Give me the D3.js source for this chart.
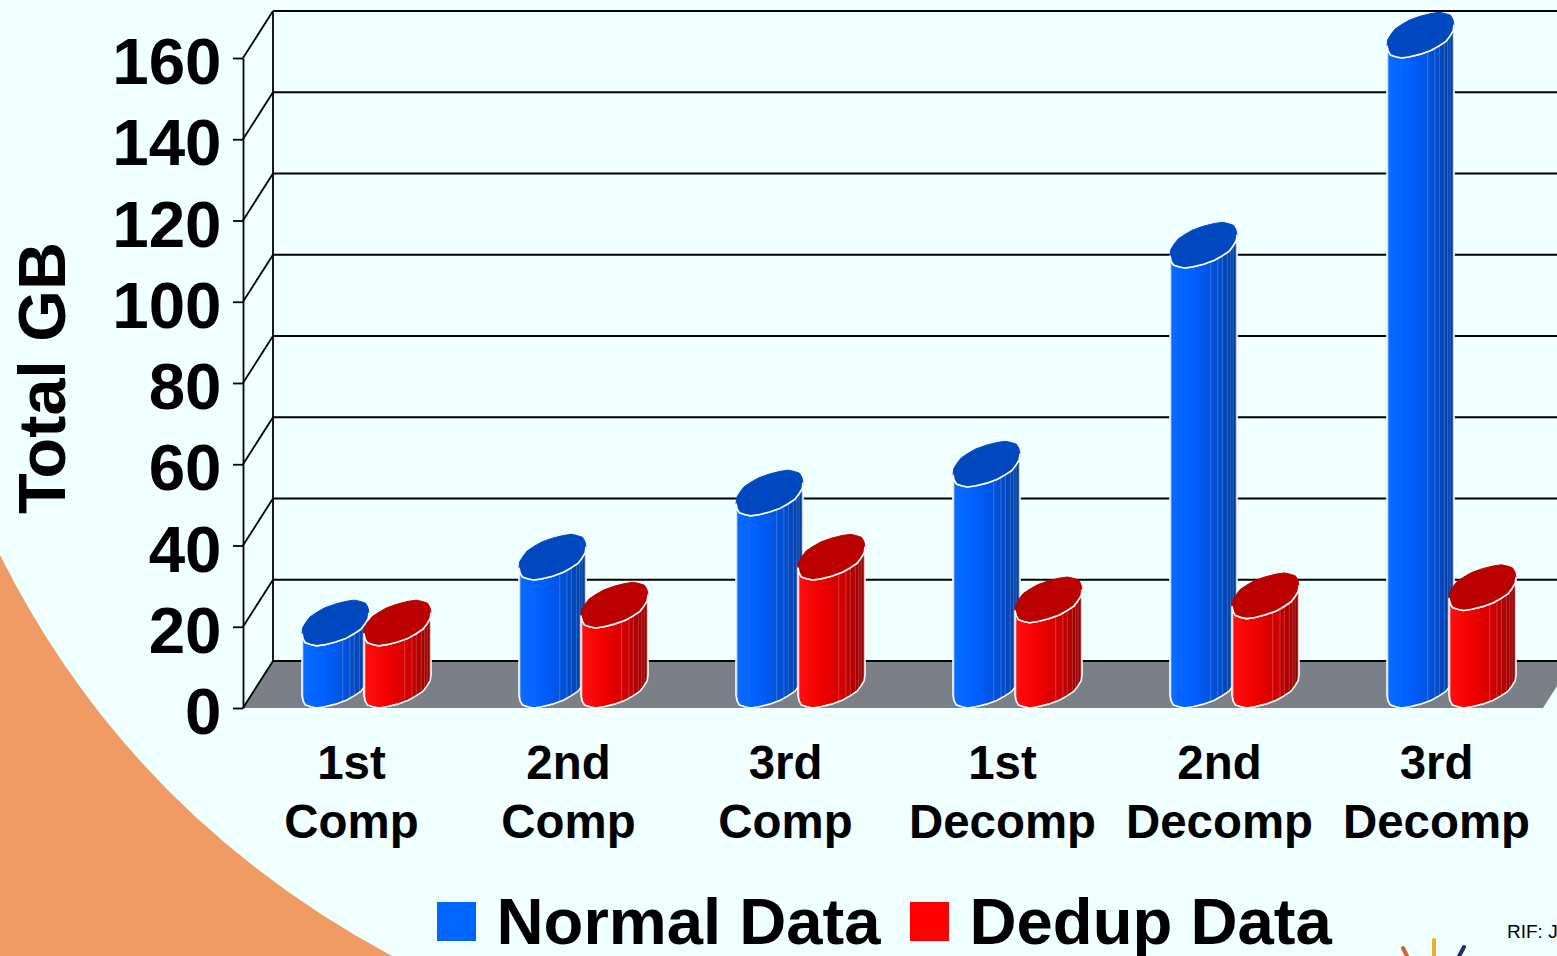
<!DOCTYPE html>
<html><head><meta charset="utf-8">
<script src="https://cdn.jsdelivr.net/npm/d3@7"></script>
<style>html,body{margin:0;padding:0;background:#f0ffff;overflow:hidden}svg{display:block}text{font-family:"Liberation Sans",Arial,sans-serif;font-weight:700;fill:#000}</style>
</head><body><svg id="c" width="1557" height="956"></svg>
<script>
const categories = ["1st|Comp","2nd|Comp","3rd|Comp","1st|Decomp","2nd|Decomp","3rd|Decomp"];
const seriesNames = ["Normal Data","Dedup Data"];
const normalValues = [15.3,31.5,47.3,54.4,108.3,160];
const dedupValues = [15.3,19.7,31.5,21,22,24];
const tickValues = [0,20,40,60,80,100,120,140,160];

const W=1557,H=956;
const svg=d3.select("#c");
const defs=svg.append("defs");
const y=d3.scaleLinear().domain([0,160]).range([708,58]);
const x=d3.scaleBand().domain(categories).range([243,1545]);
const sub=d3.scaleOrdinal().domain(seriesNames).range([59,121]);
const depth={dx:30,dy:-47};

const palette={
 "Normal Data":{id:"gB",stops:["#0a6cff","#0060ff","#0050d8","#003c9c"],top:"#0048c0",legend:"#0066ff"},
 "Dedup Data":{id:"gR",stops:["#ff1010","#f20000","#cf0000","#8e0000"],top:"#bb0000",legend:"#ff0000"}
};
Object.values(palette).forEach(p=>{
 const g=defs.append("linearGradient").attr("id",p.id);
 p.stops.forEach((c,i)=>g.append("stop").attr("offset",i/(p.stops.length-1)).attr("stop-color",c));
});

svg.append("rect").attr("width",W).attr("height",H).attr("fill","#f0ffff");
svg.append("path").attr("d","M0,555 Q130,815 392,956 L0,956 Z").attr("fill","#f09b63");

// floor
svg.append("path").attr("d",`M${x.range()[0]},${y(0)} l${depth.dx},${depth.dy} H${W} V${y(0)-22} L1543,${y(0)} Z`).attr("fill","#7b8088");

// back wall gridlines, side wall
const wall=svg.append("g").attr("stroke","#000").attr("stroke-width",1.8).attr("fill","none");
const x0=x.range()[0];
tickValues.forEach(v=>{
 wall.append("line").attr("x1",x0+depth.dx).attr("x2",W).attr("y1",y(v)+depth.dy).attr("y2",y(v)+depth.dy);
 wall.append("line").attr("x1",x0).attr("x2",x0+depth.dx).attr("y1",y(v)).attr("y2",y(v)+depth.dy);
});
wall.append("line").attr("x1",x0+depth.dx).attr("x2",x0+depth.dx).attr("y1",y(0)+depth.dy).attr("y2",y(160)+depth.dy);

// left axis
const axis=svg.append("g").attr("transform",`translate(${x0},0)`)
 .call(d3.axisLeft(y).tickValues(tickValues).tickSize(10).tickSizeOuter(0).tickPadding(11.5));
axis.selectAll("path,line").attr("stroke","#000").attr("stroke-width",1.8);
axis.selectAll("text").style("font-size","65.5px").style("font-family",'"Liberation Sans"').style("font-weight",700).attr("fill","#000").attr("dy","0.39em");

// cylinders: a rounded, slightly faceted tilted disc
const A=33.5,B=19,S=10.5,N=24;
const edge=d3.line().curve(d3.curveLinear);
const pw=(v,e)=>Math.sign(v)*Math.pow(Math.abs(v),e);
function ell(cx,cy,t){
 const j=1+0.012*Math.sin(t*10);
 const u=pw(Math.cos(t),0.84)*j, v=pw(Math.sin(t),0.88)*j;
 return [cx+A*Math.min(1,Math.max(-1,u)),cy-S*u+B*v];
}
function ring(cx,cy,a0,a1,n){return d3.range(n+1).map(i=>ell(cx,cy,a0+(a1-a0)*i/n));}
const HB=d3.max(d3.range(0,Math.PI*2,0.01),t=>ell(0,0,t)[1]);
const seamTs=[0.94,0.9,0.45,0.38,0.33,0.27,0.22,0.16,0.1].map(f=>Math.PI*f);
function drawBar(cat,name,val){
 const p=palette[name];
 const left=x(cat)+sub(name), cx=left+A;
 const yBase=y(0)-HB, yTop=y(val)-HB;
 const g=svg.append("g");
 const front=ring(cx,yTop,Math.PI,0,N/2);
 const base=ring(cx,yBase,0,Math.PI,N/2);
 g.append("path").attr("d",edge(front.concat(base))+"Z").attr("fill",`url(#${p.id})`).attr("stroke","#fff").attr("stroke-width",1.6).attr("stroke-linejoin","round");
 seamTs.forEach(t=>{
  const a=ell(cx,yTop,t), b=ell(cx,yBase,t);
  g.append("line").attr("x1",a[0]).attr("x2",b[0]).attr("y1",a[1]).attr("y2",b[1])
   .attr("stroke","#fff").attr("stroke-opacity",.18).attr("stroke-width",1.2);
 });
 g.append("path").attr("d",edge(ring(cx,yTop,0,2*Math.PI,N))+"Z").attr("fill",p.top).attr("stroke",p.top).attr("stroke-width",1);
 g.append("path").attr("d",edge(front)).attr("fill","none").attr("stroke","#fff").attr("stroke-width",1.6);
}
categories.forEach((c,i)=>{
 drawBar(c,seriesNames[0],normalValues[i]);
 drawBar(c,seriesNames[1],dedupValues[i]);
});

// category labels
categories.forEach(c=>{
 const cxx=x(c)+x.bandwidth()/2;
 c.split("|").forEach((l,i)=>{
  svg.append("text").attr("x",cxx).attr("y",778.5+i*59).attr("text-anchor","middle").style("font-size","47.4px").text(l);
 });
});

// y title
svg.append("text").attr("transform","translate(65,378) rotate(-90)").attr("text-anchor","middle").style("font-size","66.5px").text("Total GB");

// legend
const legendX=[437,910];
seriesNames.forEach((n,i)=>{
 svg.append("rect").attr("x",legendX[i]).attr("y",902).attr("width",39).attr("height",39).attr("fill",palette[n].legend);
 svg.append("text").attr("x",legendX[i]+59.5).attr("y",943.5).style("font-size","65.2px").text(n);
});

// footer fragments
svg.append("text").attr("x",1507).attr("y",938).style("font-size","19px").style("font-weight",400).text("RIF: J");
const rays=[[1403,948,1409,960,"#c9683a"],[1434,940,1434,960,"#eeb02c"],[1464,947,1457,960,"#2a2a6a"]];
svg.append("g").selectAll("line").data(rays).join("line")
 .attr("x1",d=>d[0]).attr("y1",d=>d[1]).attr("x2",d=>d[2]).attr("y2",d=>d[3])
 .attr("stroke",d=>d[4]).attr("stroke-width",4).attr("stroke-linecap","round");
</script></body></html>
